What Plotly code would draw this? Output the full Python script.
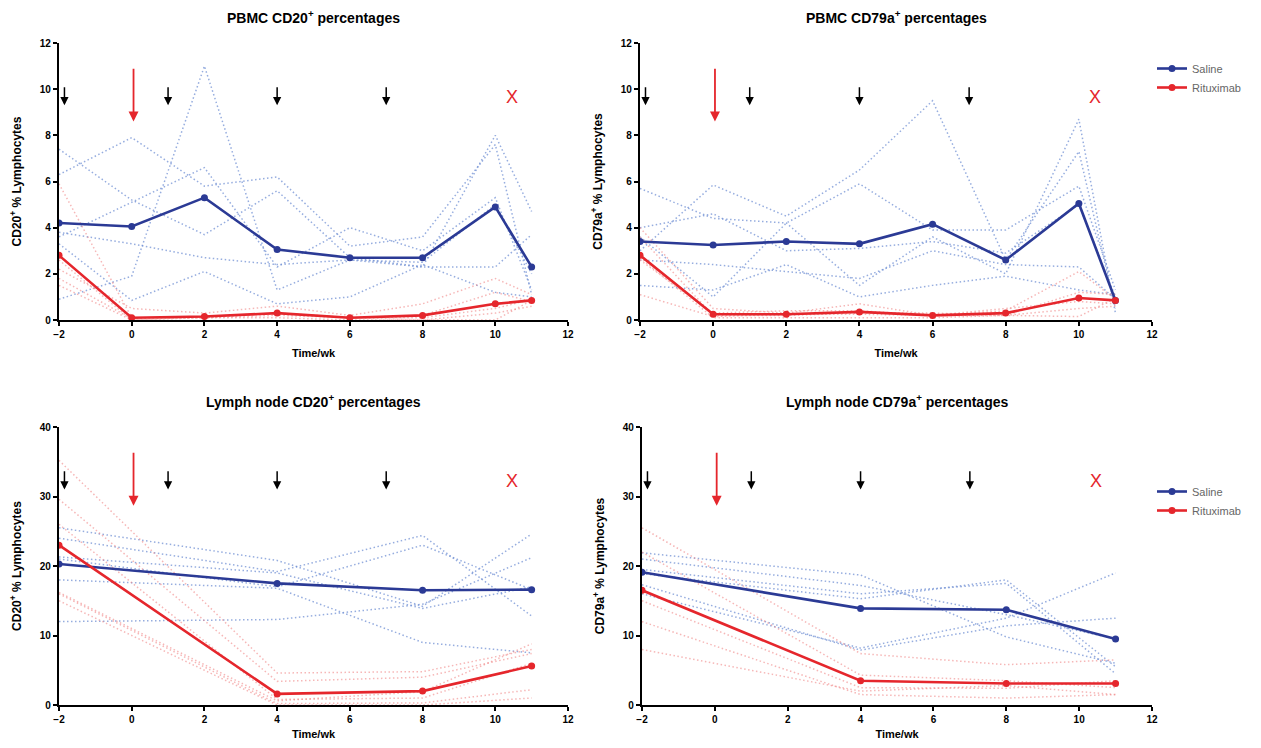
import plotly.graph_objects as go

# ---------------- data ----------------
weeks_pbmc = [-2, 0, 2, 4, 6, 8, 10, 11]
weeks_ln = [-2, 4, 8, 11]

# PBMC CD20+
pbmc_cd20_saline_mean = [4.2, 4.05, 5.3, 3.05, 2.7, 2.7, 4.9, 2.3]
pbmc_cd20_ritux_mean = [2.8, 0.1, 0.15, 0.3, 0.1, 0.2, 0.7, 0.85]
pbmc_cd20_saline_ind = [
    [7.4, 5.2, 3.7, 5.6, 2.7, 2.3, 8.0, 4.7],
    [6.3, 7.9, 5.8, 6.2, 3.2, 3.6, 7.6, 1.1],
    [3.6, 5.1, 6.6, 2.3, 4.0, 3.0, 5.3, 1.3],
    [3.8, 3.3, 2.7, 2.4, 2.6, 2.3, 2.3, 3.7],
    [0.9, 1.9, 11.0, 1.3, 2.6, 2.5, 5.0, 2.0],
    [3.3, 0.85, 2.1, 0.7, 1.0, 2.4, 1.2, 1.0],
]
pbmc_cd20_ritux_ind = [
    [5.9, 0.1, 0.1, 0.2, 0.1, 0.1, 0.5, 0.9],
    [2.2, 0.5, 0.3, 0.6, 0.2, 0.7, 1.8, 1.1],
    [1.8, 0.05, 0.1, 0.3, 0.1, 0.2, 1.2, 0.8],
    [1.5, 0.0, 0.1, 0.1, 0.0, 0.0, 0.3, 0.6],
    [2.6, 0.0, 0.15, 0.3, 0.1, 0.0, 0.0, 0.85],
]

# PBMC CD79a+
pbmc_cd79_saline_mean = [3.4, 3.25, 3.4, 3.3, 4.15, 2.6, 5.05, 0.85]
pbmc_cd79_ritux_mean = [2.8, 0.25, 0.25, 0.35, 0.2, 0.3, 0.95, 0.85]
pbmc_cd79_saline_ind = [
    [5.7, 4.4, 4.2, 1.5, 3.6, 2.0, 8.7, 0.3],
    [3.0, 5.85, 4.5, 6.5, 9.5, 2.6, 7.3, 0.5],
    [3.6, 1.0, 4.2, 5.9, 3.9, 3.9, 5.8, 1.3],
    [2.6, 2.4, 2.1, 1.8, 3.0, 2.4, 2.3, 0.9],
    [4.0, 4.6, 3.0, 3.1, 3.4, 2.9, 5.0, 1.0],
    [1.5, 1.3, 2.4, 1.0, 1.5, 1.9, 1.3, 1.1],
]
pbmc_cd79_ritux_ind = [
    [4.0, 0.5, 0.3, 0.7, 0.2, 0.4, 2.1, 0.9],
    [3.6, 0.2, 0.2, 0.3, 0.3, 0.2, 1.2, 1.1],
    [2.6, 0.3, 0.4, 0.4, 0.2, 0.5, 0.8, 0.7],
    [2.7, 0.1, 0.1, 0.1, 0.1, 0.2, 0.5, 0.6],
    [1.1, 0.15, 0.25, 0.25, 0.2, 0.2, 0.15, 0.95],
]

# Lymph node CD20+
ln_cd20_saline_mean = [20.3, 17.5, 16.5, 16.6]
ln_cd20_ritux_mean = [23.0, 1.6, 2.0, 5.6]
ln_cd20_saline_ind = [
    [25.5, 20.8, 14.2, 24.6],
    [24.0, 19.2, 24.4, 12.8],
    [21.0, 17.0, 23.0, 16.6],
    [18.0, 16.8, 9.0, 7.5],
    [21.3, 19.0, 13.9, 17.0],
    [12.0, 12.3, 14.5, 21.2],
]
ln_cd20_ritux_ind = [
    [35.2, 4.6, 4.8, 8.0],
    [29.6, 3.4, 4.0, 7.4],
    [26.0, 0.8, 1.0, 6.0],
    [16.0, 0.2, 0.3, 2.2],
    [15.0, 0.0, 0.0, 1.0],
    [16.2, 0.6, 1.9, 8.8],
]

# Lymph node CD79a+
ln_cd79_saline_mean = [19.1, 13.9, 13.7, 9.5]
ln_cd79_ritux_mean = [16.5, 3.5, 3.1, 3.1]
ln_cd79_saline_ind = [
    [21.9, 18.7, 9.8, 6.0],
    [21.0, 17.2, 13.0, 9.5],
    [18.9, 15.3, 18.0, 5.5],
    [16.0, 8.2, 12.5, 19.0],
    [19.5, 16.0, 17.5, 4.5],
    [17.3, 7.9, 11.4, 12.5],
]
ln_cd79_ritux_ind = [
    [25.5, 7.4, 5.8, 6.5],
    [22.0, 4.3, 3.5, 2.5],
    [15.0, 2.5, 2.4, 3.5],
    [12.0, 1.5, 1.0, 1.5],
    [8.0, 2.0, 2.8, 1.5],
]

# treatment markers (weeks)
small_arrow_weeks = [-1.85, 1, 4, 7]
red_arrow_week = 0.05
stop_week = 10.45

titles = [
    "PBMC CD20<sup>+</sup> percentages",
    "PBMC CD79a<sup>+</sup> percentages",
    "Lymph node CD20<sup>+</sup> percentages",
    "Lymph node CD79a<sup>+</sup> percentages",
]
ytitles = [
    "CD20<sup>+</sup> % Lymphocytes",
    "CD79a<sup>+</sup> % Lymphocytes",
    "CD20<sup>+</sup> % Lymphocytes",
    "CD79a<sup>+</sup> % Lymphocytes",
]
xtitle = "Time/wk"

# ---------------- style ----------------
OFF = 8  # page body margin
W, H = 1261 - 2 * OFF, 748 - 2 * OFF
FONT = "Liberation Sans, Arial, sans-serif"
SAL = "#2b3a95"
RIT = "#e5262c"
SAL_L = "rgba(115,145,212,0.75)"
RIT_L = "rgba(240,135,135,0.6)"
DOT = "1.5px,2.5px"


def px(v):
    return v - OFF


# panel pixel boxes in page coords: (left, right, top, bottom)
boxes = [
    (59, 568, 43, 320),
    (640, 1152, 43, 320),
    (59, 568, 427, 705),
    (642, 1152, 427, 705),
]

panels = [
    (weeks_pbmc, pbmc_cd20_saline_mean, pbmc_cd20_ritux_mean, pbmc_cd20_saline_ind, pbmc_cd20_ritux_ind, 12, 2),
    (weeks_pbmc, pbmc_cd79_saline_mean, pbmc_cd79_ritux_mean, pbmc_cd79_saline_ind, pbmc_cd79_ritux_ind, 12, 2),
    (weeks_ln, ln_cd20_saline_mean, ln_cd20_ritux_mean, ln_cd20_saline_ind, ln_cd20_ritux_ind, 40, 10),
    (weeks_ln, ln_cd79_saline_mean, ln_cd79_ritux_mean, ln_cd79_saline_ind, ln_cd79_ritux_ind, 40, 10),
]

fig = go.Figure()
layout = {}
annotations = []

for i, (wk, smean, rmean, sind, rind, ymax, dtick) in enumerate(panels):
    n = i + 1
    xa = "x" if n == 1 else f"x{n}"
    ya = "y" if n == 1 else f"y{n}"
    xkey = "xaxis" if n == 1 else f"xaxis{n}"
    ykey = "yaxis" if n == 1 else f"yaxis{n}"
    l, r, t, b = boxes[i]
    xdom = [px(l) / W, px(r) / W]
    ydom = [1 - px(b) / H, 1 - px(t) / H]

    for row in sind:
        fig.add_trace(go.Scatter(x=wk, y=row, mode="lines", xaxis=xa, yaxis=ya,
                                 line=dict(color=SAL_L, width=1.5, dash=DOT),
                                 showlegend=False, hoverinfo="skip"))
    for row in rind:
        fig.add_trace(go.Scatter(x=wk, y=row, mode="lines", xaxis=xa, yaxis=ya,
                                 line=dict(color=RIT_L, width=1.5, dash=DOT),
                                 showlegend=False, hoverinfo="skip"))

    leg = None
    if n == 2:
        leg = "legend"
    elif n == 4:
        leg = "legend2"
    fig.add_trace(go.Scatter(x=wk, y=smean, mode="lines+markers", name="Saline",
                             xaxis=xa, yaxis=ya,
                             line=dict(color=SAL, width=2.6),
                             marker=dict(color=SAL, size=7),
                             showlegend=leg is not None, legend=leg or "legend"))
    fig.add_trace(go.Scatter(x=wk, y=rmean, mode="lines+markers", name="Rituximab",
                             xaxis=xa, yaxis=ya,
                             line=dict(color=RIT, width=2.6),
                             marker=dict(color=RIT, size=7),
                             showlegend=leg is not None, legend=leg or "legend"))

    layout[xkey] = dict(domain=xdom, anchor=ya, range=[-2, 12], dtick=2, tick0=-2,
                        showgrid=False, zeroline=False, showline=True,
                        linecolor="black", linewidth=2.2, ticks="outside",
                        ticklen=4, tickwidth=2, tickcolor="black",
                        tickfont=dict(family=FONT, size=10, color="black", weight="bold"),
                        title=dict(text=f"<b>{xtitle}</b>", standoff=10,
                                   font=dict(family=FONT, size=11, color="black")),
                        automargin=False)
    layout[ykey] = dict(domain=ydom, anchor=xa, range=[0, ymax], dtick=dtick,
                        showgrid=False, zeroline=False, showline=True,
                        linecolor="black", linewidth=2.2, ticks="outside",
                        ticklen=4, tickwidth=2, tickcolor="black",
                        tickfont=dict(family=FONT, size=10, color="black", weight="bold"),
                        title=dict(text=f"<b>{ytitles[i]}</b>", standoff=16,
                                   font=dict(family=FONT, size=12, color="black")),
                        automargin=False)

    # panel title
    annotations.append(dict(xref="paper", yref="paper",
                            x=(xdom[0] + xdom[1]) / 2, y=1 - px(t - 26) / H,
                            text=f"<b>{titles[i]}</b>", showarrow=False,
                            xanchor="center", yanchor="middle",
                            font=dict(family=FONT, size=14, color="black")))

    # treatment arrows
    s = ymax / 12.0
    for w in small_arrow_weeks:
        annotations.append(dict(xref=xa, yref=ya, axref=xa, ayref=ya,
                                x=w, y=9.3 * s, ax=w, ay=10.15 * s, text="",
                                showarrow=True, arrowhead=2, arrowsize=1.1,
                                arrowwidth=1.5, arrowcolor="black"))
    annotations.append(dict(xref=xa, yref=ya, axref=xa, ayref=ya,
                            x=red_arrow_week, y=8.6 * s, ax=red_arrow_week, ay=10.95 * s,
                            text="", showarrow=True, arrowhead=2, arrowsize=1.1,
                            arrowwidth=1.8, arrowcolor=RIT))
    annotations.append(dict(xref=xa, yref=ya, x=stop_week, y=9.65 * s, text="X",
                            showarrow=False,
                            font=dict(family=FONT, size=18, color=RIT)))

layout["legend"] = dict(x=px(1152) / W, y=1 - px(54) / H, xanchor="left", yanchor="top",
                        font=dict(family=FONT, size=11, color="#666"),
                        bgcolor="rgba(0,0,0,0)", itemwidth=30, tracegroupgap=2)
layout["legend2"] = dict(x=px(1152) / W, y=1 - px(477) / H, xanchor="left", yanchor="top",
                         font=dict(family=FONT, size=11, color="#666"),
                         bgcolor="rgba(0,0,0,0)", itemwidth=30, tracegroupgap=2)

fig.update_layout(**layout)
fig.update_layout(width=W, height=H, margin=dict(l=0, r=0, t=0, b=0),
                  paper_bgcolor="white", plot_bgcolor="white",
                  annotations=annotations, showlegend=True,
                  font=dict(family=FONT))

fig.write_html("out.html")
